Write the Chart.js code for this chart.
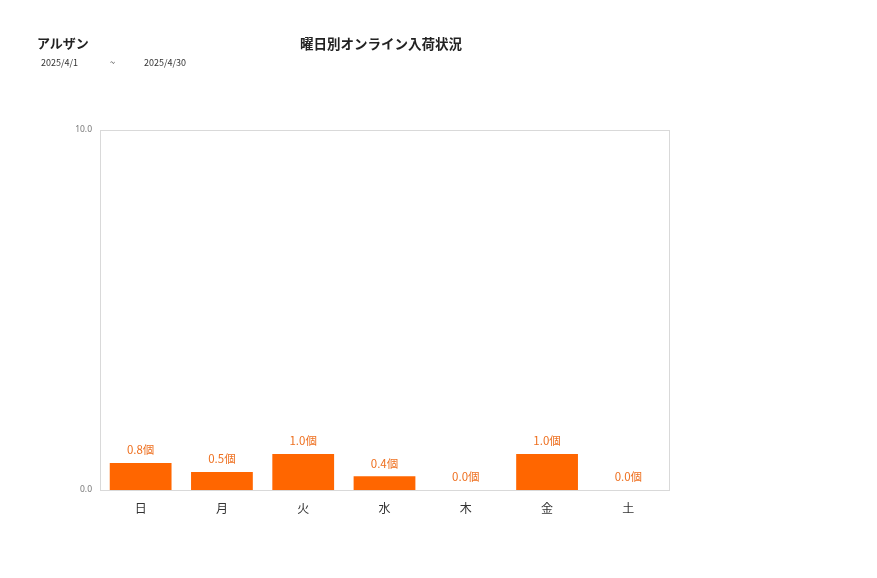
<!DOCTYPE html>
<html>
<head>
<meta charset="utf-8">
<script src="https://cdn.jsdelivr.net/npm/chart.js@4"></script>
<style>
  body { margin: 0; background: #fff; font-family: "Noto Sans CJK JP", "Noto Sans", sans-serif; }
  #wrap { position: relative; width: 877px; height: 578px; }
  .txt { position: absolute; white-space: nowrap; color: #222; }
  #shop { left: 37px; top: 33px; font-size: 13px; font-weight: bold; }
  #title { left: 300px; top: 33px; font-size: 13.5px; font-weight: bold; }
  .date { top: 56px; font-size: 9px; color: #333; }
</style>
</head>
<body>
<div id="wrap">
  <canvas id="chart" width="877" height="578"></canvas>
  <div class="txt" id="shop">アルザン</div>
  <div class="txt" id="title">曜日別オンライン入荷状況</div>
  <div class="txt date" style="left:41px">2025/4/1</div>
  <div class="txt date" style="left:110px">~</div>
  <div class="txt date" style="left:144px">2025/4/30</div>
</div>
<script>
const days = ["日", "月", "火", "水", "木", "金", "土"];
const counts = [0.75, 0.5, 1.0, 0.38, 0.0, 1.0, 0.0];
const yTicks = [0, 10];

const barColor = "#ff6600";
const labelColor = "#ee7020";

// frame round the plot area and value labels above each bar
const framePlugin = {
  id: "frame",
  beforeDatasetsDraw(chart) {
    const a = chart.chartArea;
    const ctx = chart.ctx;
    ctx.save();
    ctx.strokeStyle = "#d9d9d9";
    ctx.lineWidth = 1;
    ctx.strokeRect(Math.round(a.left) + 0.5, Math.round(a.top) + 0.5, Math.round(a.right - a.left), Math.round(a.bottom - a.top));
    ctx.restore();
  },
  afterDatasetsDraw(chart) {
    const ctx = chart.ctx;
    const meta = chart.getDatasetMeta(0);
    ctx.save();
    ctx.fillStyle = labelColor;
    ctx.font = '11.5px "Noto Sans CJK JP"';
    ctx.textAlign = "center";
    ctx.textBaseline = "middle";
    meta.data.forEach((bar, i) => {
      ctx.fillText(`${counts[i].toFixed(1)}個`, bar.x, bar.y - 13);
    });
    ctx.restore();
  }
};

new Chart(document.getElementById("chart"), {
  type: "bar",
  data: {
    labels: days,
    datasets: [{
      data: counts,
      backgroundColor: barColor,
      categoryPercentage: 0.76,
      barPercentage: 1.0
    }]
  },
  options: {
    responsive: false,
    animation: false,
    layout: { padding: { left: 60, right: 208, top: 130, bottom: 48 } },
    plugins: { legend: { display: false }, tooltip: { enabled: false } },
    scales: {
      x: {
        grid: { display: false },
        border: { display: false },
        ticks: { color: "#333", padding: 3, font: { size: 12, family: "Noto Sans CJK JP" } },
        afterFit: (s) => { s.height = 40; }
      },
      y: {
        min: 0,
        max: 10,
        afterBuildTicks: (s) => { s.ticks = yTicks.map((v) => ({ value: v })); },
        grid: { display: false },
        border: { display: false },
        ticks: {
          color: "#777",
          padding: 0,
          font: { size: 8.5, family: "Noto Sans" },
          callback: (v) => Number(v).toFixed(1)
        },
        afterFit: (s) => { s.width = 40; }
      }
    }
  },
  plugins: [framePlugin]
});
</script>
</body>
</html>
